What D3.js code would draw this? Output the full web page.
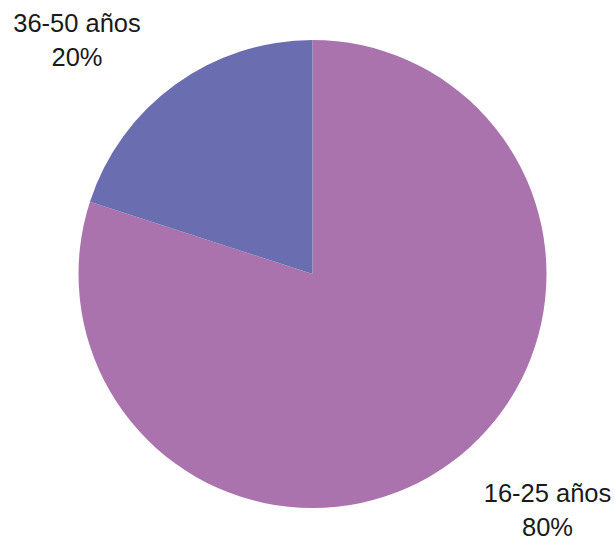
<!DOCTYPE html>
<html><head><meta charset="utf-8">
<script src="https://cdn.jsdelivr.net/npm/d3@7"></script>
<style>body{margin:0;background:#fff}svg{display:block}</style>
</head><body>
<script>
const categories = ["16-25 años", "36-50 años"];
const values = [80, 20];
const percentLabels = ["80%", "20%"];
const colors = ["#AB73AE", "#6A6EB0"];

const W = 615, H = 537;
const cx = 312.5, cy = 274, r = 234;
const svg = d3.select("body").append("svg").attr("width", W).attr("height", H);
const g = svg.append("g").attr("transform", `translate(${cx},${cy})`);
const pie = d3.pie().sort(null).value(d => d)(values);
const arc = d3.arc().innerRadius(0).outerRadius(r);
g.selectAll("path").data(pie).enter().append("path")
  .attr("d", arc).attr("fill", (d, i) => colors[i]);

const labelPos = [[547.5, 502], [77, 32]];
const font = "'Liberation Sans', Arial, sans-serif";
const lab = svg.selectAll("g.lab").data(pie).enter().append("g")
  .attr("transform", (d, i) => `translate(${labelPos[i][0]},${labelPos[i][1]})`);
lab.append("text").attr("text-anchor", "middle")
  .style("font-family", font).style("font-size", "25.5px").attr("fill", "#1a1a1a")
  .text((d, i) => categories[i]);
lab.append("text").attr("text-anchor", "middle").attr("y", 34)
  .style("font-family", font).style("font-size", "25.5px").attr("fill", "#1a1a1a")
  .text((d, i) => percentLabels[i]);
</script>
</body></html>
